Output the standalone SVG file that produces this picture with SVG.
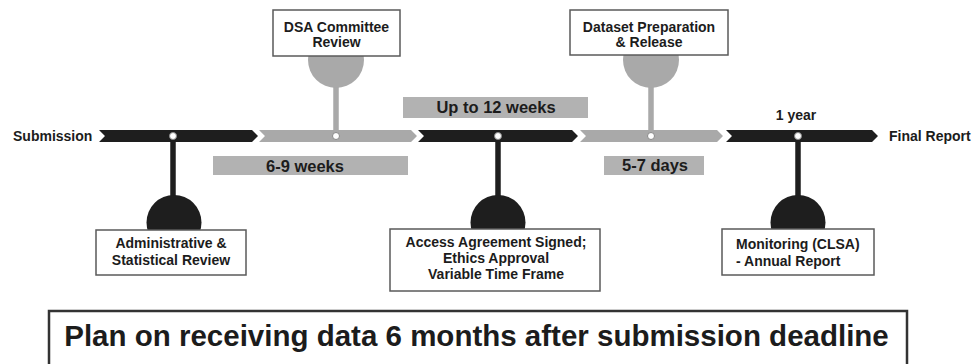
<svg xmlns="http://www.w3.org/2000/svg" width="972" height="364" viewBox="0 0 972 364">
<style>
text{font-family:"Liberation Sans",Arial,sans-serif;font-weight:bold;fill:#1c1c1c}
.lbl{font-size:14px}
.dur{font-size:16.5px}
.big{font-size:29.5px}
.seg-k{fill:#1e1e1e}
.seg-g{fill:#a9a9a9}
.bar{fill:#b2b2b2}
.box{fill:#fff;stroke:#5a5a5a;stroke-width:1.5}
.dome-k{fill:#1e1e1e}
.dome-g{fill:#a9a9a9}
.stem-k{stroke:#1e1e1e;stroke-width:5.5}
.stem-g{stroke:#a9a9a9;stroke-width:5.5}
.dot{fill:#fff;stroke:#888;stroke-width:1}
</style>
<rect width="972" height="364" fill="#fff"/>
<g id="timeline">
<polygon class="seg-k" points="99,130 252,130 258,136 252,142 99,142 105,136"/>
<polygon class="seg-g" points="259,130 411,130 417,136 411,142 259,142 265,136"/>
<polygon class="seg-k" points="418,130 572,130 578,136 572,142 418,142 424,136"/>
<polygon class="seg-g" points="580,130 717,130 723,136 717,142 580,142 586,136"/>
<polygon class="seg-k" points="726,130 872,130 878,136 872,142 726,142 732,136"/>
</g>
<g id="connectors">
<line class="stem-k" x1="173" y1="136" x2="173" y2="205"/>
<line class="stem-g" x1="336" y1="80" x2="336" y2="136"/>
<line class="stem-k" x1="498" y1="136" x2="498" y2="205"/>
<line class="stem-g" x1="651" y1="80" x2="651" y2="136"/>
<line class="stem-k" x1="798" y1="136" x2="798" y2="205"/>
</g>
<g id="dots">
<circle class="dot" cx="173" cy="136" r="3.5"/>
<circle class="dot" cx="336" cy="136" r="3.5"/>
<circle class="dot" cx="498" cy="136" r="3.5"/>
<circle class="dot" cx="651" cy="136" r="3.5"/>
<circle class="dot" cx="798" cy="136" r="3.5"/>
</g>
<g id="submission"><text class="lbl" x="13" y="141">Submission</text></g>
<g id="final-report"><text class="lbl" x="889" y="141">Final Report</text></g>
<g id="one-year"><text class="lbl" x="796" y="120" text-anchor="middle">1 year</text></g>
<g id="dur-6-9">
<rect class="bar" x="213" y="156" width="195" height="19"/>
<text class="dur" x="305" y="172" text-anchor="middle">6-9 weeks</text>
</g>
<g id="dur-12">
<rect class="bar" x="403" y="97" width="185" height="21"/>
<text class="dur" x="496" y="113" text-anchor="middle">Up to 12 weeks</text>
</g>
<g id="dur-5-7">
<rect class="bar" x="604" y="156" width="100" height="19"/>
<text class="dur" x="655" y="171" text-anchor="middle">5-7 days</text>
</g>
<g id="admin">
<circle class="dome-k" cx="174" cy="222.5" r="27.5"/>
<rect class="box" x="96" y="230" width="150" height="45"/>
<text class="lbl" x="171" y="248" text-anchor="middle">Administrative &amp;</text>
<text class="lbl" x="171" y="265" text-anchor="middle">Statistical Review</text>
</g>
<g id="dsa">
<circle class="dome-g" cx="336" cy="60" r="28"/>
<rect class="box" x="273" y="10" width="127" height="46"/>
<text class="lbl" x="336.5" y="32" text-anchor="middle">DSA Committee</text>
<text class="lbl" x="336.5" y="47" text-anchor="middle">Review</text>
</g>
<g id="access">
<circle class="dome-k" cx="498" cy="222.5" r="27.5"/>
<rect class="box" x="390" y="229" width="210" height="62"/>
<text class="lbl" x="496" y="247" text-anchor="middle">Access Agreement Signed;</text>
<text class="lbl" x="496" y="263" text-anchor="middle">Ethics Approval</text>
<text class="lbl" x="496" y="279" text-anchor="middle">Variable Time Frame</text>
</g>
<g id="dataset">
<circle class="dome-g" cx="651" cy="60" r="28"/>
<rect class="box" x="570" y="10" width="158" height="45"/>
<text class="lbl" x="649" y="32" text-anchor="middle">Dataset Preparation</text>
<text class="lbl" x="649" y="47" text-anchor="middle">&amp; Release</text>
</g>
<g id="monitoring">
<circle class="dome-k" cx="798" cy="222.5" r="27.5"/>
<rect class="box" x="722" y="229" width="152" height="46"/>
<text class="lbl" x="736" y="249">Monitoring (CLSA)</text>
<text class="lbl" x="736" y="266">- Annual Report</text>
</g>
<g id="summary">
<rect x="49" y="311" width="858" height="60" fill="#fff" stroke="#333" stroke-width="2.5"/>
<text class="big" x="476.5" y="346" text-anchor="middle">Plan on receiving data 6 months after submission deadline</text>
</g>
</svg>
